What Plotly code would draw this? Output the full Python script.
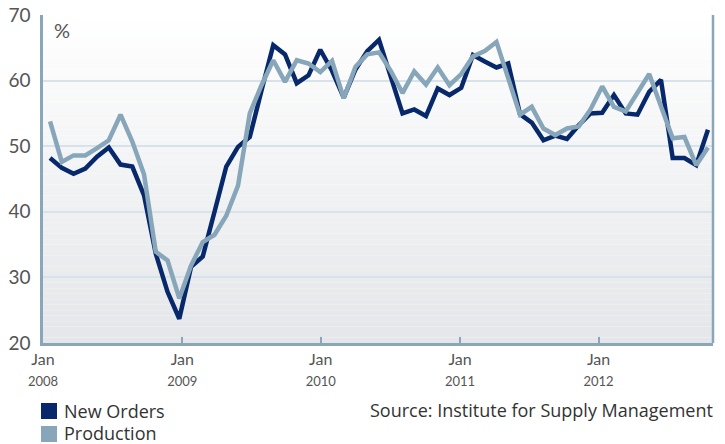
import plotly.graph_objects as go

# ISM manufacturing sub-indices, monthly, Jan 2008 - Sep 2012 (month index 0..56)
months = list(range(57))

new_orders = [
    48.2, 46.7, 45.8, 46.6, 48.4, 49.8, 47.2, 46.9, 42.5, 33.6,
    27.8, 23.7, 31.6, 33.2, 40.0, 46.9, 49.9, 51.4, 58.5, 65.4,
    64.0, 59.6, 60.8, 64.7, 61.5, 57.4, 61.7, 64.5, 66.2, 60.5,
    55.0, 55.6, 54.6, 58.8, 57.8, 58.9, 63.9, 62.9, 62.0, 62.6,
    54.9, 53.6, 50.9, 51.6, 51.1, 53.2, 55.0, 55.1, 57.8, 55.0,
    54.8, 58.3, 60.1, 48.2, 48.2, 47.1, 52.5,
]

production = [
    53.8, 47.6, 48.6, 48.6, 49.7, 50.9, 54.8, 50.7, 45.7, 33.9,
    32.6, 26.8, 31.8, 35.4, 36.5, 39.4, 44.0, 55.0, 59.3, 63.1,
    59.8, 63.1, 62.6, 61.3, 63.0, 57.3, 62.1, 64.0, 64.3, 61.5,
    58.1, 61.4, 59.4, 62.0, 59.3, 61.0, 63.7, 64.5, 65.9, 60.3,
    54.8, 56.0, 52.7, 51.7, 52.7, 53.0, 55.6, 59.1, 56.0, 55.3,
    58.3, 61.0, 56.1, 51.2, 51.4, 47.1, 49.8,
]

# January markers on the month axis
tick_positions = [-0.6, 11.26, 23.04, 34.9, 46.69]
tick_years = ["2008", "2009", "2010", "2011", "2012"]
y_ticks = [20, 30, 40, 50, 60, 70]

NAVY = "#07286a"
STEEL = "#87a6ba"
AXIS = "#8aa7ba"
GRID = "#d7e2ea"
FONT = "Lato"
TEXT_FONT = "Open Sans"

fig = go.Figure()
fig.add_trace(go.Scatter(x=months, y=new_orders, mode="lines", name="New Orders",
                         line=dict(color=NAVY, width=4.5), showlegend=False))
fig.add_trace(go.Scatter(x=months, y=production, mode="lines", name="Production",
                         line=dict(color=STEEL, width=4.5), showlegend=False))

# vertical background gradient inside the plot area
N = 60
top = (255, 255, 255)
bot = (228, 230, 233)
shapes = []
for k in range(N):
    t = (k + 0.5) / N
    c = tuple(round(bot[j] + (top[j] - bot[j]) * t) for j in range(3))
    shapes.append(dict(type="rect", xref="x domain", yref="y domain",
                       x0=0, x1=1, y0=k / N, y1=(k + 1) / N,
                       fillcolor="rgb(%d,%d,%d)" % c, line=dict(width=0),
                       layer="below"))
# right-hand frame line
shapes.append(dict(type="line", xref="x domain", yref="y domain",
                   x0=1, x1=1, y0=0, y1=1, line=dict(color=AXIS, width=2.5)))

# legend swatches (pixel layout converted to paper coords)
W, H = 725, 444
ml, mr, mt, mb = 43, 12, 15, 101
pw, ph = W - ml - mr, H - mt - mb


def px(x):
    return (x - ml) / pw


def py(y):
    return (H - mb - y) / ph


for y0, col in [(403, NAVY), (426, STEEL)]:
    shapes.append(dict(type="rect", xref="paper", yref="paper",
                       x0=px(41), x1=px(57), y0=py(y0), y1=py(y0 + 16),
                       fillcolor=col, line=dict(width=0)))

label_font = dict(family=TEXT_FONT, size=18, color="#333333")
annotations = [
    dict(text="New Orders", x=px(62), y=py(411), xref="paper", yref="paper",
         xanchor="left", yanchor="middle", showarrow=False, font=label_font),
    dict(text="Production", x=px(62), y=py(433), xref="paper", yref="paper",
         xanchor="left", yanchor="middle", showarrow=False, font=label_font),
    dict(text="Source: Institute for Supply Management", x=px(715), y=py(410),
         xref="paper", yref="paper", xanchor="right", yanchor="middle",
         showarrow=False, font=label_font),
    dict(text="%", x=px(52), y=py(30), xref="paper", yref="paper",
         xanchor="left", yanchor="middle", showarrow=False,
         font=dict(family=FONT, size=20, color="#555555")),
]

fig.update_layout(
    width=W, height=H,
    margin=dict(l=ml, r=mr, t=mt, b=mb, autoexpand=False),
    paper_bgcolor="white", plot_bgcolor="white",
    shapes=shapes, annotations=annotations,
    showlegend=False,
    xaxis=dict(range=[-0.6, 56.43], tickmode="array", tickvals=tick_positions,
               ticktext=["Jan<br><span style='font-size:13px'>%s</span>" % y for y in tick_years],
               ticks="inside", ticklen=6, tickwidth=2, tickcolor=AXIS,
               showline=True, linecolor=AXIS, linewidth=2.5, showgrid=False,
               zeroline=False, automargin=False,
               tickfont=dict(family=FONT, size=16, color="#555555")),
    yaxis=dict(range=[20, 70], tickmode="array", tickvals=y_ticks,
               showline=True, linecolor=AXIS, linewidth=2.5,
               showgrid=True, gridcolor=GRID, gridwidth=1.5, zeroline=False,
               ticks="", ticklabelstandoff=6, automargin=False,
               tickfont=dict(family=FONT, size=19, color="#555555")),
)

fig.write_html("out.html")
